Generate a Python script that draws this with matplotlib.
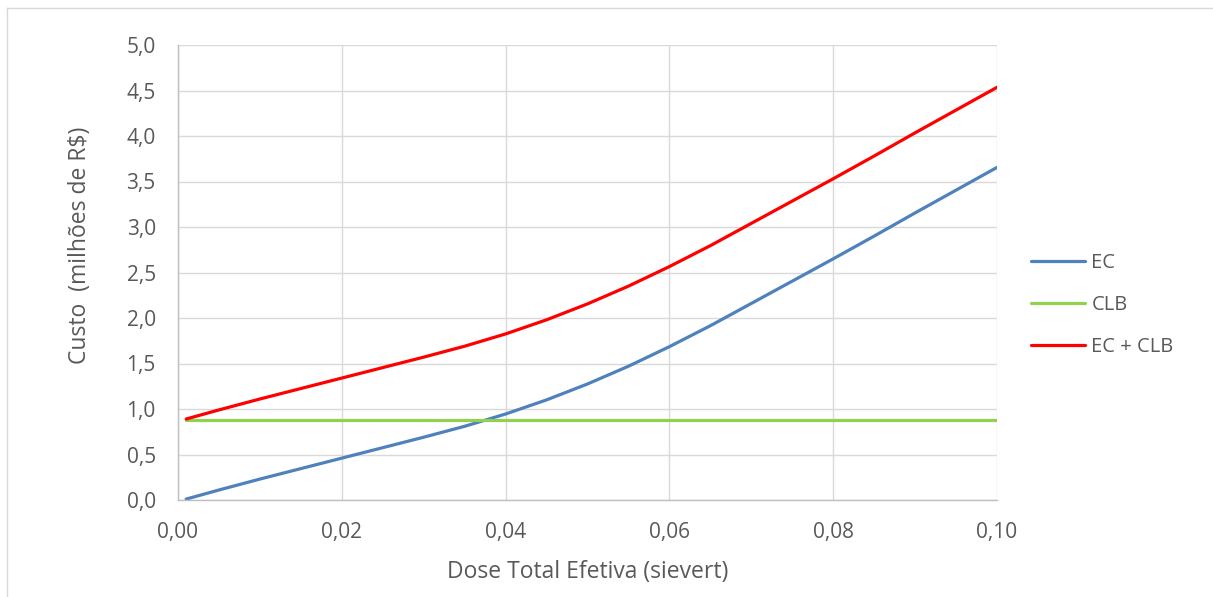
import matplotlib
matplotlib.use("Agg")
import matplotlib.pyplot as plt
from matplotlib.lines import Line2D
from matplotlib.ticker import FuncFormatter, MultipleLocator

# Effective total dose (sievert)
dose = [0.001, 0.005, 0.01, 0.015, 0.02, 0.025, 0.03, 0.035, 0.04, 0.045,
        0.05, 0.055, 0.06, 0.065, 0.07, 0.075, 0.08, 0.085, 0.09, 0.095, 0.10]
# Collective dose cost, EC (million R$)
ec = [0.01, 0.11, 0.23, 0.345, 0.46, 0.575, 0.69, 0.81, 0.945, 1.10,
      1.275, 1.47, 1.685, 1.915, 2.16, 2.405, 2.65, 2.90, 3.155, 3.405, 3.655]
# Baseline cost, CLB (million R$)
clb_value = 0.88
clb = [clb_value] * len(dose)
# Total cost
total = [a + b for a, b in zip(ec, clb)]

series_labels = ["EC", "CLB", "EC + CLB"]
series_colors = ["#4F81BD", "#92D050", "#FF0000"]

plt.rcParams["font.family"] = ["Open Sans", "DejaVu Sans"]
text_color = "#595959"
grid_color = "#D9D9D9"

W, H = 1213, 597
fig = plt.figure(figsize=(W / 100, H / 100), dpi=100)
ax = fig.add_axes([178 / W, 1 - 500 / H, 819 / W, 455 / H])

for y, lab, col in zip([ec, clb, total], series_labels, series_colors):
    ax.plot(dose, y, color=col, lw=2.3, label=lab,
            solid_capstyle="round", solid_joinstyle="round")

ax.set_xlim(0, 0.10)
ax.set_ylim(0, 5.0)
ax.xaxis.set_major_locator(MultipleLocator(0.02))
ax.yaxis.set_major_locator(MultipleLocator(0.5))
ax.xaxis.set_major_formatter(FuncFormatter(lambda v, p: f"{v:.2f}".replace(".", ",")))
ax.yaxis.set_major_formatter(FuncFormatter(lambda v, p: f"{v:.1f}".replace(".", ",")))
ax.grid(True, color=grid_color, lw=1.0)
ax.set_axisbelow(True)
for s in ["top", "right"]:
    ax.spines[s].set_visible(False)
for s in ["left", "bottom"]:
    ax.spines[s].set_color("#BFBFBF")
    ax.spines[s].set_linewidth(1.0)
ax.tick_params(axis="both", length=0, colors=text_color, labelsize=15)
ax.tick_params(axis="x", pad=16)
ax.tick_params(axis="y", pad=16)

ax.set_xlabel("Dose Total Efetiva (sievert)", fontsize=16.5, color=text_color)
ax.xaxis.label.set_va("center")
ax.xaxis.set_label_coords(0.5, (500 - 572) / 455)
ax.set_ylabel("Custo  (milhões de R$)", fontsize=16.5, color=text_color)
ax.yaxis.label.set_va("center")
ax.yaxis.set_label_coords((80 - 178) / 819, (500 - 245) / 455)

leg = fig.legend(loc="center left", bbox_to_anchor=(1031 / W, 1 - 305 / H),
                 frameon=False, fontsize=14.5, handlelength=2.7, handletextpad=0.3,
                 labelspacing=1.11, borderpad=0, borderaxespad=0)
for t in leg.get_texts():
    t.set_color(text_color)

# Chart area border
fig.add_artist(Line2D([7 / W, 7 / W], [1 - 8 / H, -0.05], transform=fig.transFigure,
                      color=grid_color, lw=1.0))
fig.add_artist(Line2D([7 / W, 1.05], [1 - 8 / H, 1 - 8 / H], transform=fig.transFigure,
                      color=grid_color, lw=1.0))

fig.savefig("out.png", dpi=100, facecolor="white")
